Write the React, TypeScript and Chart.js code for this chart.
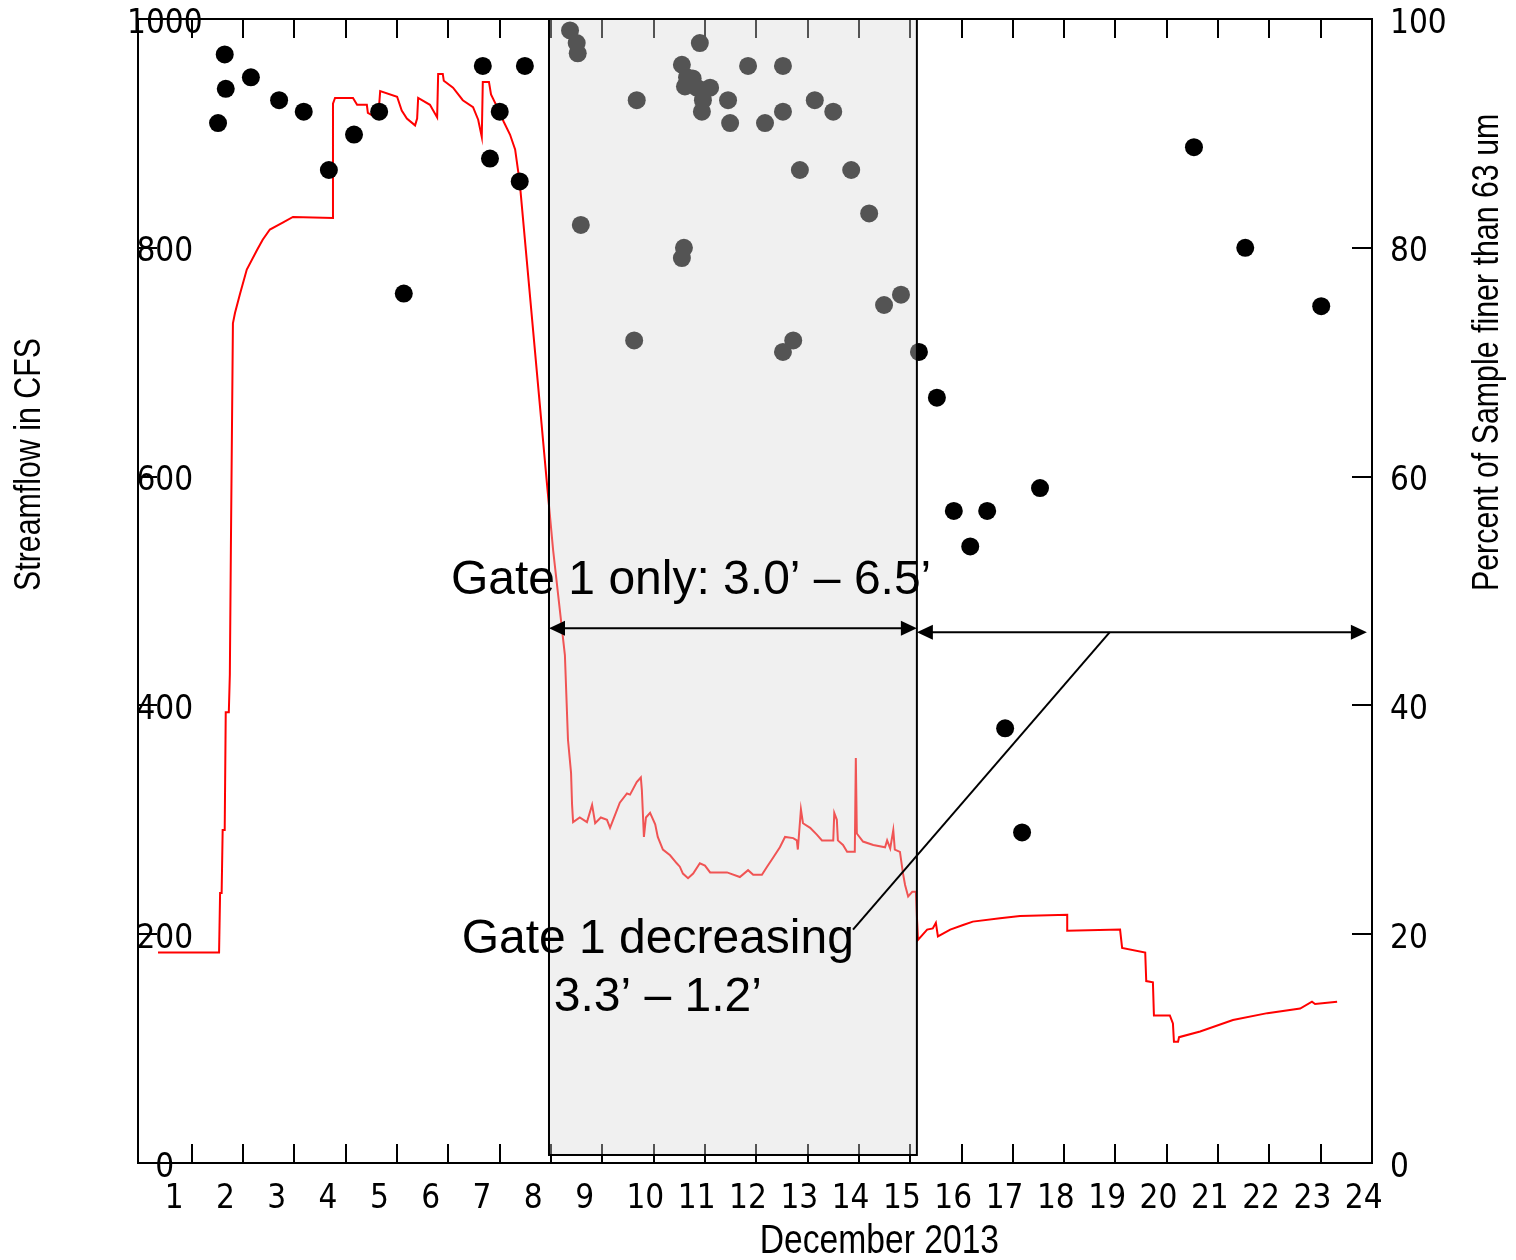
import React, { useEffect, useRef } from 'react';
import { Chart, registerables } from 'chart.js';

Chart.register(...registerables);

// ---------------- data ----------------
const X_TICK_DAYS = [1, 2, 3, 4, 5, 6, 7, 8, 9, 10, 11, 12, 13, 14, 15, 16, 17, 18, 19, 20, 21, 22, 23, 24];
const X_TICK_LABELS = ['1', '2', '3', '4', '5', '6', '7', '8', '9', '10', '11', '12', '13', '14', '15', '16', '17', '18', '19', '20', '21', '22', '23', '24'];
const X_AXIS_TITLE = 'December 2013';
const LEFT_AXIS_TITLE = 'Streamflow in CFS';
const RIGHT_AXIS_TITLE = 'Percent of Sample finer than 63 um';

// Streamflow (CFS) vs day of December 2013
const FLOW_DAY = [
  0.34, 1.53, 1.55, 1.58, 1.60, 1.64, 1.66, 1.72, 1.74, 1.76, 1.80, 1.84, 1.94, 2.07, 2.27, 2.38, 2.52, 2.77, 2.97,
  3.75, 3.75, 3.79, 4.14, 4.22, 4.41, 4.43, 4.63, 4.67, 5.00, 5.09, 5.19, 5.35, 5.39, 5.41, 5.64, 5.78, 5.80, 5.89,
  5.91, 6.09, 6.28, 6.48, 6.58, 6.65, 6.67, 6.79, 6.83, 6.95, 7.08, 7.20, 7.30, 7.39, 7.92, 8.04, 8.27, 8.33, 8.39,
  8.41, 8.43, 8.56, 8.70, 8.80, 8.86, 8.97, 9.09, 9.15, 9.21, 9.34, 9.48, 9.54, 9.67, 9.75, 9.77, 9.81, 9.85, 9.93,
  10.03, 10.08, 10.18, 10.32, 10.45, 10.51, 10.57, 10.67, 10.77, 10.90, 11.00, 11.10, 11.43, 11.68, 11.84, 11.94,
  12.11, 12.21, 12.33, 12.46, 12.56, 12.72, 12.79, 12.81, 12.87, 12.91, 13.05, 13.18, 13.28, 13.50, 13.52, 13.57,
  13.59, 13.69, 13.77, 13.92, 13.94, 13.96, 14.08, 14.28, 14.51, 14.55, 14.61, 14.67, 14.70, 14.80, 14.86, 14.90,
  14.96, 15.04, 15.11, 15.15, 15.23, 15.33, 15.44, 15.50, 15.54, 15.78, 16.03, 16.22, 16.75, 17.14, 18.06, 18.06,
  19.09, 19.13, 19.58, 19.60, 19.73, 19.75, 20.06, 20.12, 20.14, 20.22, 20.24, 20.65, 21.29, 21.96, 22.60, 22.83,
  22.89, 23.32,
];
const FLOW_CFS = [
  184, 184, 236, 236, 291, 291, 394, 394, 427, 536, 734, 743, 760, 781, 798, 807, 816, 822, 827,
  826, 926, 931, 931, 925, 925, 918, 913, 937, 932, 920, 913, 907, 913, 931, 925, 914, 952, 952,
  946, 940, 929, 923, 912, 897, 945, 945, 934, 923, 910, 899, 886, 857, 594, 536, 444, 370, 341,
  313, 298, 302, 298, 313, 297, 302, 300, 293, 300, 315, 323, 322, 333, 337, 326, 285, 302, 306,
  296, 285, 274, 269, 262, 259, 253, 249, 253, 262, 260, 254, 254, 250, 256, 252,
  252, 259, 267, 276, 285, 284, 282, 274, 309, 297, 293, 287, 282, 282, 306, 300,
  282, 278, 272, 272, 354, 288, 281, 278, 276, 282, 275, 291, 274, 272, 253, 243,
  233, 237, 237, 195, 199, 204, 205, 210, 198, 204, 208, 211, 214, 216, 217, 203,
  204, 188, 184, 159, 158, 129, 129, 122, 106, 106, 110, 115, 125, 131, 135, 141,
  139, 141,
];

// Percent of sample finer than 63 um
const SAMPLE_DAY = [
  1.51, 1.64, 1.66, 2.15, 2.70, 3.18, 3.67, 4.16, 4.65, 5.13, 6.67, 6.81, 7.00, 7.39, 7.49,
  8.37, 8.50, 8.52, 8.58, 9.62, 9.67, 10.55, 10.55, 10.59, 10.61, 10.65, 10.76, 10.84, 10.90, 10.94,
  10.96, 11.10, 11.45, 11.49, 11.84, 12.17, 12.52, 12.52, 12.52, 12.72, 12.85, 13.14, 13.50, 13.85,
  14.20, 14.49, 14.82, 15.17, 15.52, 15.85, 16.17, 16.50, 16.85, 17.18, 17.53, 20.53, 21.53, 23.01,
];
const SAMPLE_PCT = [
  90.9, 96.9, 93.9, 94.9, 92.9, 91.9, 86.8, 89.9, 91.9, 76.0, 95.9, 87.8, 91.9, 85.8, 95.9,
  99.0, 97.9, 97.0, 82.0, 71.9, 92.9, 96.0, 79.1, 80.0, 94.1, 94.9, 94.8, 94.0, 97.9, 91.9,
  92.9, 94.0, 92.9, 90.9, 95.9, 90.9, 95.9, 91.9, 70.9, 71.9, 86.8, 92.9, 91.9, 86.8,
  83.0, 75.0, 75.9, 70.9, 66.9, 57.0, 53.9, 57.0, 38.0, 28.9, 59.0, 88.8, 80.0, 74.9,
];

// Annotation content
const GATE_ONLY_TEXT = 'Gate 1 only: 3.0\u2019 \u2013 6.5\u2019';
const GATE_DECREASING_TEXT = ['Gate 1 decreasing', '3.3\u2019 \u2013 1.2\u2019'];
const GATE_ONLY_PERIOD = [7.96, 15.13];
const GATE_DECREASING_PERIOD = [15.13, 23.9];

// ---------------- style ----------------
const CONDENSED = "'DejaVu Sans Condensed', 'Liberation Sans Narrow', 'Arial Narrow', sans-serif";
const SANS = "'Liberation Sans', Arial, sans-serif";
const X_MIN = -0.05;
const X_MAX = 24;
const LABEL_SHIFT = 0.53;
const TICK_FONT = { family: CONDENSED, size: 33 };

function arrowHead(ctx: CanvasRenderingContext2D, x: number, y: number, dir: number) {
  ctx.beginPath();
  ctx.moveTo(x, y);
  ctx.lineTo(x - dir * 16, y - 7.5);
  ctx.lineTo(x - dir * 16, y + 7.5);
  ctx.closePath();
  ctx.fill();
}

function doubleArrow(ctx: CanvasRenderingContext2D, x1: number, x2: number, y: number) {
  ctx.beginPath();
  ctx.moveTo(x1 + 4, y);
  ctx.lineTo(x2 - 4, y);
  ctx.stroke();
  arrowHead(ctx, x1, y, -1);
  arrowHead(ctx, x2, y, 1);
}

// narrow text: Liberation Sans squeezed horizontally (Arial Narrow proportions)
function narrowText(ctx: CanvasRenderingContext2D, text: string, x: number, y: number, size: number, rotate: boolean, align: CanvasTextAlign) {
  ctx.save();
  ctx.translate(x, y);
  if (rotate) ctx.rotate(-Math.PI / 2);
  ctx.scale(0.82, 1);
  ctx.font = `${size}px ${SANS}`;
  ctx.textAlign = align;
  ctx.textBaseline = 'middle';
  ctx.fillStyle = '#000';
  ctx.fillText(text, 0, 0);
  ctx.restore();
}

const overlayPlugin = {
  id: 'overlay',
  afterDraw(chart: any) {
    const { ctx, scales, chartArea } = chart;
    const x = scales.x;
    const y = scales.y;
    ctx.save();
    // shaded gate-only period
    const bx1 = x.getPixelForValue(GATE_ONLY_PERIOD[0]);
    const bx2 = x.getPixelForValue(GATE_ONLY_PERIOD[1]);
    const by1 = y.getPixelForValue(1000);
    const by2 = y.getPixelForValue(7);
    ctx.fillStyle = 'rgba(217,217,217,0.39)';
    ctx.fillRect(bx1, by1, bx2 - bx1, by2 - by1);
    ctx.strokeStyle = '#000';
    ctx.lineWidth = 2;
    ctx.strokeRect(bx1, by1, bx2 - bx1, by2 - by1);

    // arrows
    ctx.fillStyle = '#000';
    doubleArrow(ctx, bx1, bx2, y.getPixelForValue(467.5));
    doubleArrow(ctx, x.getPixelForValue(GATE_DECREASING_PERIOD[0]), x.getPixelForValue(GATE_DECREASING_PERIOD[1]), y.getPixelForValue(464));

    // leader line
    ctx.beginPath();
    ctx.moveTo(x.getPixelForValue(18.89), y.getPixelForValue(464));
    ctx.lineTo(x.getPixelForValue(13.885), y.getPixelForValue(204));
    ctx.stroke();

    // annotation text
    ctx.font = `48px ${SANS}`;
    ctx.textAlign = 'center';
    ctx.textBaseline = 'middle';
    ctx.fillText(GATE_ONLY_TEXT, x.getPixelForValue(10.73), y.getPixelForValue(509));
    ctx.fillText(GATE_DECREASING_TEXT[0], x.getPixelForValue(10.08), y.getPixelForValue(195));
    ctx.fillText(GATE_DECREASING_TEXT[1], x.getPixelForValue(10.08), y.getPixelForValue(144));
    ctx.restore();

    // axis titles
    const midY = (chartArea.top + chartArea.bottom) / 2;
    narrowText(ctx, LEFT_AXIS_TITLE, chartArea.left - 108, midY, 37, true, 'left');
    narrowText(ctx, RIGHT_AXIS_TITLE, chartArea.right + 116, midY, 37, true, 'left');
    narrowText(ctx, X_AXIS_TITLE, x.getPixelForValue(14.4), chartArea.bottom + 79, 41, false, 'center');
  },
};

function zeroPad(s: any) {
  s.paddingTop = 0;
  s.paddingBottom = 0;
  s.paddingLeft = 0;
  s.paddingRight = 0;
}

const tickGrid = (len: number) => ({
  display: true,
  drawOnChartArea: false,
  drawTicks: true,
  tickLength: len,
  color: '#000',
  lineWidth: 2,
});
const axisBorder = { display: true, color: '#000', width: 2 };

export default function App() {
  const ref = useRef<HTMLCanvasElement>(null);
  useEffect(() => {
    document.body.style.margin = '0';
    const flow = FLOW_DAY.map((d, i) => ({ x: d, y: FLOW_CFS[i] }));
    const samples = SAMPLE_DAY.map((d, i) => ({ x: d, y: SAMPLE_PCT[i] }));
    const chart = new Chart(ref.current as HTMLCanvasElement, {
      type: 'scatter',
      data: {
        datasets: [
          {
            label: 'Percent finer than 63 um',
            data: samples,
            yAxisID: 'y2',
            xAxisID: 'x',
            showLine: false,
            pointRadius: 9,
            pointBackgroundColor: '#000',
            pointBorderColor: '#000',
            pointBorderWidth: 0,
            clip: false,
          } as any,
          {
            label: 'Streamflow',
            data: flow,
            yAxisID: 'y',
            xAxisID: 'x',
            showLine: true,
            borderColor: '#ff0000',
            borderWidth: 2,
            pointRadius: 0,
            tension: 0,
            fill: false,
          } as any,
        ],
      },
      options: {
        animation: false,
        responsive: false,
        devicePixelRatio: 1,
        events: [],
        layout: { padding: { left: 138, top: 19, right: 44, bottom: 37 } },
        plugins: { legend: { display: false }, tooltip: { enabled: false } },
        scales: {
          x: {
            type: 'linear',
            position: 'bottom',
            min: X_MIN,
            max: X_MAX,
            afterBuildTicks: (s: any) => { s.ticks = X_TICK_DAYS.map((v) => ({ value: v })); },
            afterFit: (s: any) => { s.height = 0; zeroPad(s); },
            grid: tickGrid(-19),
            border: axisBorder,
            ticks: { display: false },
          },
          xt: {
            type: 'linear',
            position: 'top',
            min: X_MIN,
            max: X_MAX,
            afterBuildTicks: (s: any) => { s.ticks = X_TICK_DAYS.map((v) => ({ value: v })); },
            afterFit: (s: any) => { s.height = 0; zeroPad(s); },
            grid: tickGrid(-19),
            border: axisBorder,
            ticks: { display: false },
          },
          xl: {
            type: 'linear',
            position: 'bottom',
            min: X_MIN,
            max: X_MAX,
            afterBuildTicks: (s: any) => { s.ticks = X_TICK_DAYS.map((v) => ({ value: v - LABEL_SHIFT })); },
            afterFit: (s: any) => { s.height = 60; zeroPad(s); },
            grid: { display: false, drawTicks: false },
            border: { display: false },
            ticks: {
              display: true,
              autoSkip: false,
              maxRotation: 0,
              minRotation: 0,
              align: 'start',
              padding: 17,
              color: '#000',
              font: TICK_FONT,
              callback: (_v: any, i: number) => X_TICK_LABELS[i],
            },
          },
          y: {
            type: 'linear',
            position: 'left',
            min: 0,
            max: 1000,
            afterFit: (s: any) => { s.width = 0; zeroPad(s); },
            grid: tickGrid(-19),
            border: axisBorder,
            ticks: {
              stepSize: 200,
              mirror: true,
              crossAlign: 'center',
              padding: -11,
              labelOffset: 5,
              color: '#000',
              font: TICK_FONT,
              callback: (v: any) => String(v),
            },
          },
          y2: {
            type: 'linear',
            position: 'right',
            min: 0,
            max: 100,
            afterFit: (s: any) => { s.width = 100; zeroPad(s); },
            grid: tickGrid(-20),
            border: axisBorder,
            ticks: {
              stepSize: 20,
              padding: 38,
              labelOffset: 5,
              color: '#000',
              font: TICK_FONT,
              callback: (v: any) => String(v),
            },
          },
        },
      } as any,
      plugins: [overlayPlugin],
    });
    return () => chart.destroy();
  }, []);
  return (
    <div style={{ width: 1516, height: 1260 }}>
      <canvas ref={ref} width={1516} height={1260} style={{ display: 'block' }} />
    </div>
  );
}
